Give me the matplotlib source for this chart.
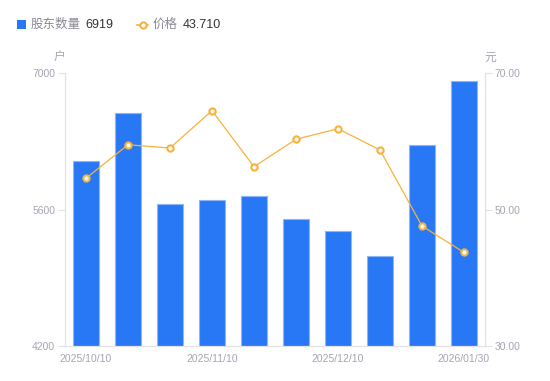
import matplotlib
matplotlib.use("Agg")
import matplotlib.pyplot as plt
import numpy as np
from matplotlib.lines import Line2D
from matplotlib.patches import Rectangle

plt.rcParams['font.family'] = ['Liberation Sans', 'Noto Sans CJK SC', 'DejaVu Sans']

dates = ["2025/10/10", "2025/10/20", "2025/10/31", "2025/11/10", "2025/11/20",
         "2025/11/28", "2025/12/10", "2025/12/19", "2025/12/31", "2026/01/30"]
holders = [6094, 6587, 5656, 5697, 5735, 5500, 5377, 5126, 6265, 6919]
price = [54.57, 59.49, 59.01, 64.48, 56.27, 60.29, 61.84, 58.72, 47.58, 43.71]
left_ticks = [4200, 5600, 7000]
right_ticks = [30, 50, 70]

BAR = "#2878f5"
LINE = "#f7b23b"
AXIS = "#e3e3e6"
TXT = "#a3a5b3"

fig = plt.figure(figsize=(5.5, 3.81), dpi=100)
ax = fig.add_axes([65/550, 35/381, 420/550, 273/381])
ax2 = ax.twinx()

x = np.arange(len(dates))
ax.bar(x, holders, width=0.6, color=BAR, edgecolor="#8db6f7", linewidth=0.8, zorder=2)
ax.set_xlim(-0.5, len(dates) - 0.5)
ax.set_ylim(left_ticks[0], left_ticks[-1])
ax.set_yticks(left_ticks)
ax.set_yticklabels([str(v) for v in left_ticks])

ax2.plot(x, price, color=LINE, linewidth=0.9, marker='o', markersize=4.5,
         markerfacecolor='white', markeredgecolor=LINE, markeredgewidth=1.5, zorder=3)
ax2.set_ylim(right_ticks[0], right_ticks[-1])
ax2.set_yticks(right_ticks)
ax2.set_yticklabels([f"{v:.2f}" for v in right_ticks])

# category labels (every third)
idx = list(range(0, len(dates), 3))
ax.set_xticks(x[idx])
ax.set_xticklabels([dates[i] for i in idx])
ax.tick_params(axis='x', length=0, pad=6, labelsize=7.5, colors=TXT)
ax.tick_params(axis='y', length=5, width=0.8, color=AXIS, pad=2, labelsize=7.5, labelcolor=TXT)
ax2.tick_params(axis='y', length=5, width=0.8, color=AXIS, pad=2, labelsize=7.5, labelcolor=TXT)

for a in (ax, ax2):
    a.spines['top'].set_visible(False)
    for s in ('left', 'right', 'bottom'):
        a.spines[s].set_color(AXIS)
        a.spines[s].set_linewidth(0.8)

# unit labels
fig.text(59/550, 1 - 57/381, "户", ha='center', va='center', fontsize=8.5,
         color=TXT, family=['Noto Sans CJK SC'])
fig.text(490/550, 1 - 57/381, "元", ha='center', va='center', fontsize=8.5,
         color=TXT, family=['Noto Sans CJK SC'])

# legend
ly = 1 - 24.5/381
fig.patches.append(Rectangle((17/550, 1 - 29/381), 9/550, 9/381, transform=fig.transFigure,
                             facecolor=BAR, edgecolor='none'))
fig.text(31/550, ly, "股东数量", ha='left', va='center', fontsize=9, color="#8a8a96",
         family=['Noto Sans CJK SC'])
fig.text(85/550, ly, f"{holders[-1]}", ha='left', va='center', fontsize=9, color="#333333")
fig.lines.append(Line2D([137/550, 148/550], [ly, ly], transform=fig.transFigure,
                        color=LINE, linewidth=1.2))
fig.lines.append(Line2D([142.5/550], [ly], transform=fig.transFigure, marker='o',
                        markersize=4.5, markerfacecolor='white', markeredgecolor=LINE,
                        markeredgewidth=1.5))
fig.text(153/550, ly, "价格", ha='left', va='center', fontsize=9, color="#8a8a96",
         family=['Noto Sans CJK SC'])
fig.text(183/550, ly, f"{price[-1]:.3f}", ha='left', va='center', fontsize=9, color="#333333")

fig.savefig("out.png", dpi=100)
